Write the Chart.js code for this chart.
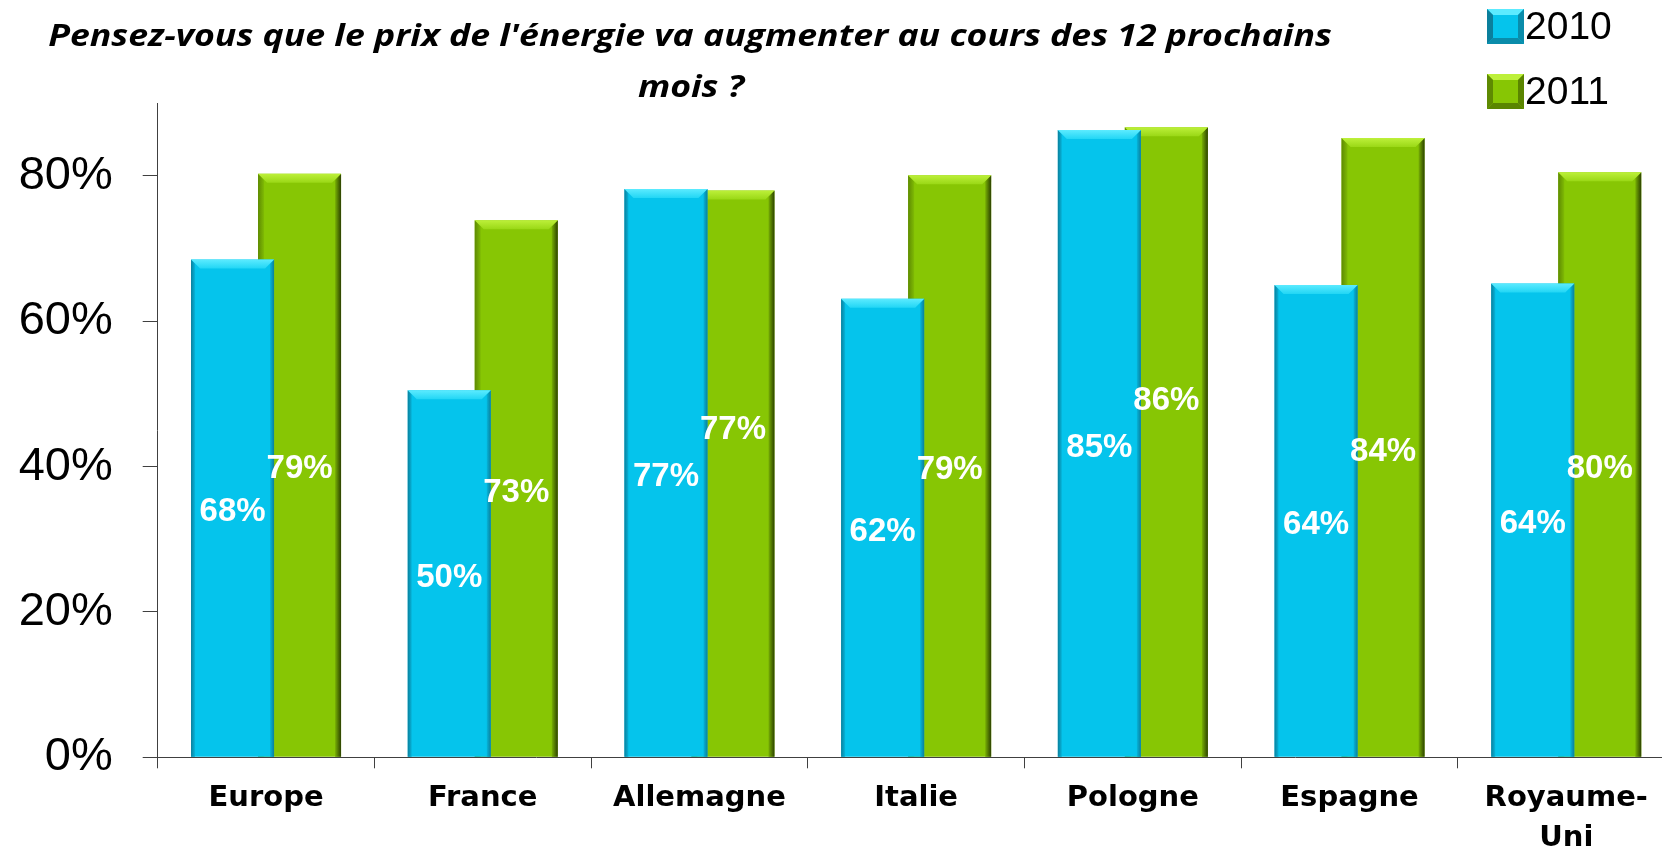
<!DOCTYPE html>
<html>
<head>
<meta charset="utf-8">
<script src="https://cdn.jsdelivr.net/npm/chart.js@4.4.1/dist/chart.umd.min.js"></script>
<style>
html,body{margin:0;padding:0;background:#fff;overflow:hidden;}
#wrap{width:1662px;height:850px;overflow:hidden;position:relative;background:#fff;}
#c{display:block;}
</style>
</head>
<body>
<div id="wrap"><canvas id="c" width="1680" height="850"></canvas></div>
<script>
// ---- data ----
const categories = [['Europe'], ['France'], ['Allemagne'], ['Italie'], ['Pologne'], ['Espagne'], ['Royaume-', 'Uni']];
const seriesNames = ['2010', '2011'];
const values2010 = [68.5, 50.5, 78.2, 63.1, 86.3, 65.0, 65.2];
const values2011 = [80.3, 73.9, 78.0, 80.1, 86.7, 85.2, 80.5];
const labels2010 = ['68%', '50%', '77%', '62%', '85%', '64%', '64%'];
const labels2011 = ['79%', '73%', '77%', '79%', '86%', '84%', '80%'];
const titleLines = ["Pensez-vous que le prix de l'énergie va augmenter au cours des 12 prochains", 'mois ?'];

// ---- plugins ----
const bevelPlugin = {
  id: 'bevel',
  afterDatasetDraw(chart, args) {
    const ds = chart.data.datasets[args.index];
    const bv = ds.bevel;
    if (!bv) return;
    const ctx = chart.ctx;
    ctx.save();
    args.meta.data.forEach(el => {
      const p = el.getProps(['x', 'y', 'width', 'base'], true);
      const l = p.x - p.width / 2, r = p.x + p.width / 2, t = p.y, b = p.base;
      const d = bv.top, s = bv.side;
      const gl = ctx.createLinearGradient(l, 0, l + s, 0);
      gl.addColorStop(0, bv.leftFrom); gl.addColorStop(1, bv.leftTo);
      ctx.fillStyle = gl;
      ctx.beginPath(); ctx.moveTo(l, t); ctx.lineTo(l + s, t + s); ctx.lineTo(l + s, b); ctx.lineTo(l, b); ctx.closePath(); ctx.fill();
      const gr = ctx.createLinearGradient(r - s, 0, r, 0);
      gr.addColorStop(0, bv.rightFrom); gr.addColorStop(1, bv.rightTo);
      ctx.fillStyle = gr;
      ctx.beginPath(); ctx.moveTo(r, t); ctx.lineTo(r, b); ctx.lineTo(r - s, b); ctx.lineTo(r - s, t + s); ctx.closePath(); ctx.fill();
      const gt = ctx.createLinearGradient(0, t, 0, t + d);
      gt.addColorStop(0, bv.topFrom); gt.addColorStop(1, bv.topTo);
      ctx.fillStyle = gt;
      ctx.beginPath(); ctx.moveTo(l, t); ctx.lineTo(r, t); ctx.lineTo(r - d, t + d); ctx.lineTo(l + d, t + d); ctx.closePath(); ctx.fill();
    });
    ctx.restore();
  }
};

const valueLabelPlugin = {
  id: 'valueLabels',
  afterDatasetsDraw(chart) {
    const ctx = chart.ctx;
    ctx.save();
    ctx.font = 'bold 33px "Liberation Sans", Arial, sans-serif';
    ctx.fillStyle = '#ffffff';
    ctx.textAlign = 'center';
    ctx.textBaseline = 'middle';
    const pos = chart.data.datasets.map((ds, di) =>
      chart.getDatasetMeta(di).data.map(el => {
        const p = el.getProps(['x', 'y', 'base'], true);
        return { x: p.x, y: (p.y + p.base) / 2 + 4 };
      }));
    for (let i = 0; i < pos[1].length; i++) {
      if (Math.abs(pos[1][i].y - pos[0][i].y) < 40) pos[1][i].y = pos[0][i].y - 47;
    }
    chart.data.datasets.forEach((ds, di) => {
      ds.valueLabels.forEach((txt, i) => ctx.fillText(txt, pos[di][i].x, pos[di][i].y));
    });
    ctx.restore();
  }
};

const titleLegendPlugin = {
  id: 'titleLegend',
  afterDraw(chart) {
    const ctx = chart.ctx;
    ctx.save();
    ctx.fillStyle = '#000';
    ctx.textAlign = 'center';
    ctx.textBaseline = 'alphabetic';
    ctx.font = 'italic bold 31px "Open Sans", "DejaVu Sans", sans-serif';
    const drawStretched = (txt, cx, y) => {
      ctx.save(); ctx.translate(cx, y); ctx.scale(1.15, 1); ctx.fillText(txt, 0, 0); ctx.restore();
    };
    drawStretched(titleLines[0], 690, 46);
    drawStretched(titleLines[1], 691, 97);
    chart.data.datasets.forEach((ds, i) => {
      const bx = 1487, by = 9 + i * 65, bw = 37, bh = 35;
      const bv = ds.bevel;
      ctx.fillStyle = ds.backgroundColor;
      ctx.fillRect(bx, by, bw, bh);
      const e = 6;
      ctx.fillStyle = bv.topFrom;
      ctx.beginPath(); ctx.moveTo(bx, by); ctx.lineTo(bx + bw, by); ctx.lineTo(bx + bw - e, by + e); ctx.lineTo(bx + e, by + e); ctx.closePath(); ctx.fill();
      ctx.fillStyle = bv.edge;
      ctx.beginPath(); ctx.moveTo(bx, by + bh); ctx.lineTo(bx + bw, by + bh); ctx.lineTo(bx + bw - e, by + bh - e); ctx.lineTo(bx + e, by + bh - e); ctx.closePath(); ctx.fill();
      ctx.beginPath(); ctx.moveTo(bx + bw, by); ctx.lineTo(bx + bw, by + bh); ctx.lineTo(bx + bw - e, by + bh - e); ctx.lineTo(bx + bw - e, by + e); ctx.closePath(); ctx.fill();
      ctx.fillStyle = bv.leftFrom;
      ctx.beginPath(); ctx.moveTo(bx, by); ctx.lineTo(bx + e, by + e); ctx.lineTo(bx + e, by + bh - e); ctx.lineTo(bx, by + bh); ctx.closePath(); ctx.fill();
      ctx.fillStyle = '#000';
      ctx.textAlign = 'left';
      ctx.textBaseline = 'middle';
      ctx.font = '39px "Liberation Sans", Arial, sans-serif';
      ctx.fillText(ds.label, bx + bw + 1, by + bh / 2 + 2);
    });
    ctx.restore();
  }
};

// ---- chart ----
new Chart(document.getElementById('c'), {
  type: 'bar',
  data: {
    labels: categories,
    datasets: [
      {
        label: seriesNames[0],
        data: values2010,
        valueLabels: labels2010,
        backgroundColor: '#05C4EC',
        borderWidth: 0,
        bevel: { top: 9, side: 4, topFrom: '#5CEBFF', topTo: '#22D6F5', leftFrom: '#0B7F9C', leftTo: '#05B4DA', rightFrom: '#05B4DA', rightTo: '#0B7F9C', edge: '#0A8CAA' }
      },
      {
        label: seriesNames[1],
        data: values2011,
        valueLabels: labels2011,
        backgroundColor: '#87C604',
        borderWidth: 0,
        bevel: { top: 9, side: 6, topFrom: '#BDF03A', topTo: '#9AD816', leftFrom: '#5E8A02', leftTo: '#7FBA04', rightFrom: '#78B004', rightTo: '#2C4100', edge: '#5A8500' }
      }
    ]
  },
  options: {
    responsive: false,
    devicePixelRatio: 1,
    animation: false,
    events: [],
    layout: { padding: { top: 103.2, right: 5.4, left: 0, bottom: 0 } },
    categoryPercentage: 0.6184,
    barPercentage: 1.239,
    plugins: {
      legend: { display: false },
      title: { display: false },
      tooltip: { enabled: false }
    },
    scales: {
      x: {
        grid: { offset: true, drawOnChartArea: false, tickLength: 11, color: '#404040', lineWidth: 1 },
        border: { color: '#404040', width: 1 },
        ticks: {
          font: { family: '"DejaVu Sans", sans-serif', weight: 'bold', size: 29, lineHeight: 1.38 },
          color: '#000',
          padding: 10,
          maxRotation: 0,
          autoSkip: false
        },
        afterFit(scale) { scale.height = 92.7; }
      },
      y: {
        min: 0,
        max: 90,
        grid: { drawOnChartArea: false, tickLength: 15, color: '#404040', lineWidth: 1 },
        border: { color: '#404040', width: 1 },
        ticks: {
          stepSize: 20,
          includeBounds: false,
          callback: v => v + '%',
          font: { family: '"Liberation Sans", Arial, sans-serif', size: 47 },
          color: '#000',
          padding: 30
        },
        afterFit(scale) { scale.width = 157.7; }
      }
    }
  },
  plugins: [bevelPlugin, valueLabelPlugin, titleLegendPlugin]
});
</script>
</body>
</html>
